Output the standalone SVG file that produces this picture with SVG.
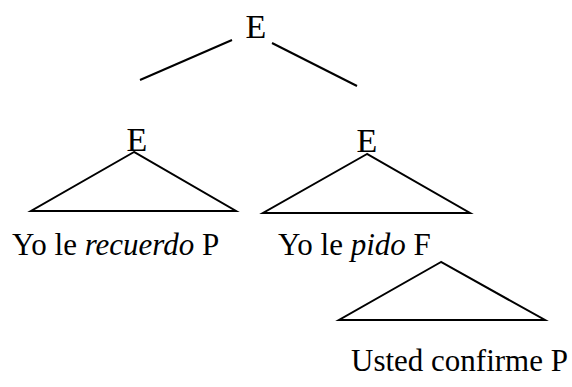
<svg xmlns="http://www.w3.org/2000/svg" width="572" height="387" viewBox="0 0 572 387">
<style>
text{font-family:"Liberation Serif","Times New Roman",serif;font-size:31px;fill:#000}
.e{font-size:34px}
.i{font-style:italic}
.ln{stroke:#000;stroke-width:2;fill:none}
</style>
<rect width="572" height="387" fill="#fff"/>
<g id="connectors">
<line class="ln" x1="140" y1="80" x2="232" y2="40"/>
<line class="ln" x1="272" y1="43" x2="357" y2="86"/>
</g>
<g id="root"><text class="e" x="256" y="38" text-anchor="middle">E</text></g>
<g id="left">
<text class="e" x="137" y="151" text-anchor="middle">E</text>
<polygon class="ln" points="134,152 31,211 236,211"/>
<text x="12" y="255">Yo le <tspan class="i">recuerdo</tspan> P</text>
</g>
<g id="right">
<text class="e" x="367" y="152" text-anchor="middle">E</text>
<polygon class="ln" points="367,154 263,213 470,213"/>
<text x="278" y="255">Yo le <tspan class="i">pido</tspan> F</text>
</g>
<g id="sub">
<polygon class="ln" points="441,262 339,320 545,320"/>
<text x="351" y="371">Usted confirme P</text>
</g>
</svg>
